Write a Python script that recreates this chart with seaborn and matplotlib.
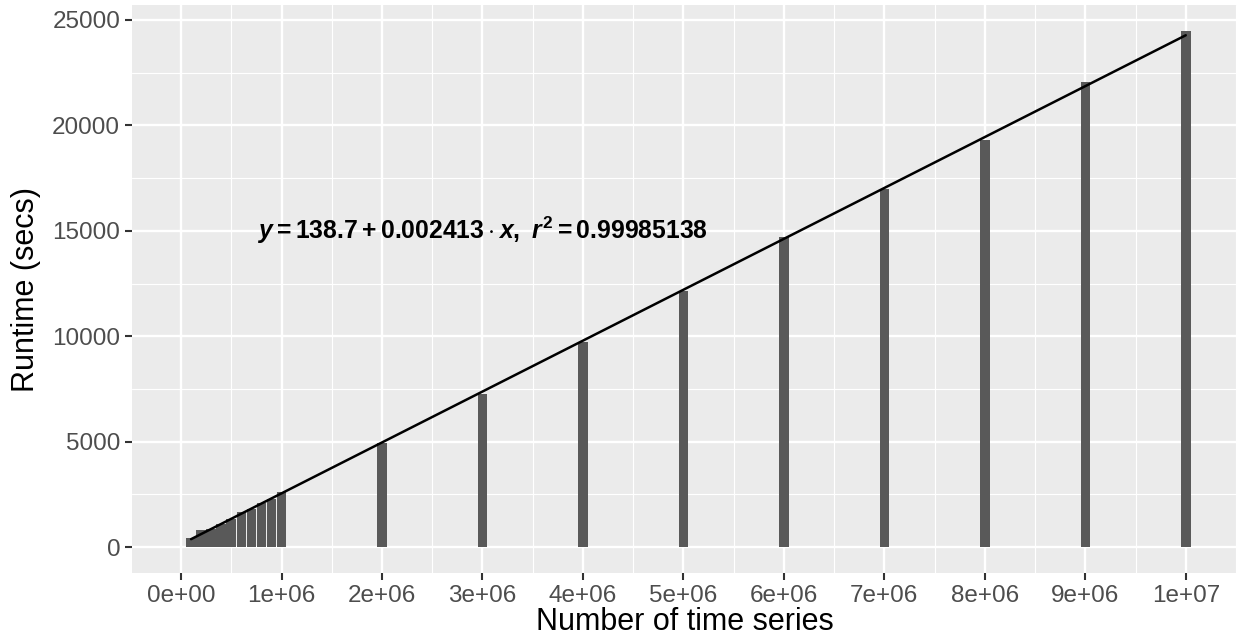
import numpy as np
import pandas as pd
import matplotlib
matplotlib.use("Agg")
import matplotlib.pyplot as plt
import seaborn as sns
from matplotlib.ticker import MultipleLocator

# ---- data ----
n_series = [100000, 200000, 300000, 400000, 500000, 600000, 700000, 800000, 900000, 1000000,
            2000000, 3000000, 4000000, 5000000, 6000000, 7000000, 8000000, 9000000, 10000000]
runtime = [420, 800, 880, 1100, 1350, 1650, 1800, 2100, 2300, 2600,
           4953, 7285, 9712, 12124, 14726, 16982, 19300, 22044, 24479]
intercept = 138.7
slope = 0.002413
r_squared = 0.99985138
x_ticks = [0, 1e6, 2e6, 3e6, 4e6, 5e6, 6e6, 7e6, 8e6, 9e6, 1e7]
x_tick_labels = ["0e+00", "1e+06", "2e+06", "3e+06", "4e+06", "5e+06",
                 "6e+06", "7e+06", "8e+06", "9e+06", "1e+07"]
y_ticks = [0, 5000, 10000, 15000, 20000, 25000]

sns.set_theme(style="darkgrid", rc={
    "axes.facecolor": "#EBEBEB",
    "grid.color": "white",
    "axes.edgecolor": "white",
    "xtick.bottom": True,
    "ytick.left": True,
})
plt.rcParams["font.family"] = ["Liberation Sans", "DejaVu Sans"]
plt.rcParams["mathtext.fontset"] = "custom"
plt.rcParams["mathtext.rm"] = "Liberation Sans:bold"
plt.rcParams["mathtext.it"] = "Liberation Sans:italic:bold"
plt.rcParams["mathtext.bf"] = "Liberation Sans:bold"

df = pd.DataFrame({"n": n_series, "runtime": runtime})

W, H = 1239, 644
left, right, top, bottom = 132, 1237, 5, 573
fig = plt.figure(figsize=(W / 100, H / 100), dpi=100)
ax = fig.add_axes([left / W, 1 - bottom / H, (right - left) / W, (bottom - top) / H])

sns.barplot(data=df, x="n", y="runtime", native_scale=True, width=0.95,
            color="#595959", saturation=1, edgecolor="none", linewidth=0,
            ax=ax, zorder=2)
for p in ax.patches:
    p.set_antialiased(False)

xs = np.array([min(n_series), max(n_series)], dtype=float)
ax.plot(xs, intercept + slope * xs, color="black", lw=1.8, zorder=3)

ax.text(3e6, 15000,
        r"$y = 138.7 + 0.002413 \cdot x,\ r^2 = 0.99985138$",
        ha="center", va="center", fontsize=17.8, color="black", zorder=4)

# axis limits (ggplot-like expansion)
ax.set_xlim(-488000, 10510000)
ymax_d = max(runtime)
ax.set_ylim(-0.05 * ymax_d, ymax_d * 1.05)

ax.set_xticks(x_ticks)
ax.set_xticklabels(x_tick_labels)
ax.set_yticks(y_ticks)
ax.xaxis.set_minor_locator(MultipleLocator(500000))
ax.yaxis.set_minor_locator(MultipleLocator(2500))
ax.grid(which="major", color="white", lw=1.7)
ax.grid(which="minor", color="white", lw=0.85)
ax.set_axisbelow(True)
ax.tick_params(axis="both", which="major", labelsize=17.5, labelcolor="#4D4D4D",
               color="#333333", length=5, width=1.5, pad=3.5)
ax.tick_params(axis="both", which="minor", length=0)
for s in ax.spines.values():
    s.set_visible(False)

ax.set_xlabel("Number of time series", fontsize=22, color="black", labelpad=0)
ax.set_ylabel("Runtime (secs)", fontsize=22, color="black", labelpad=8)

fig.savefig("out.png", dpi=100)
